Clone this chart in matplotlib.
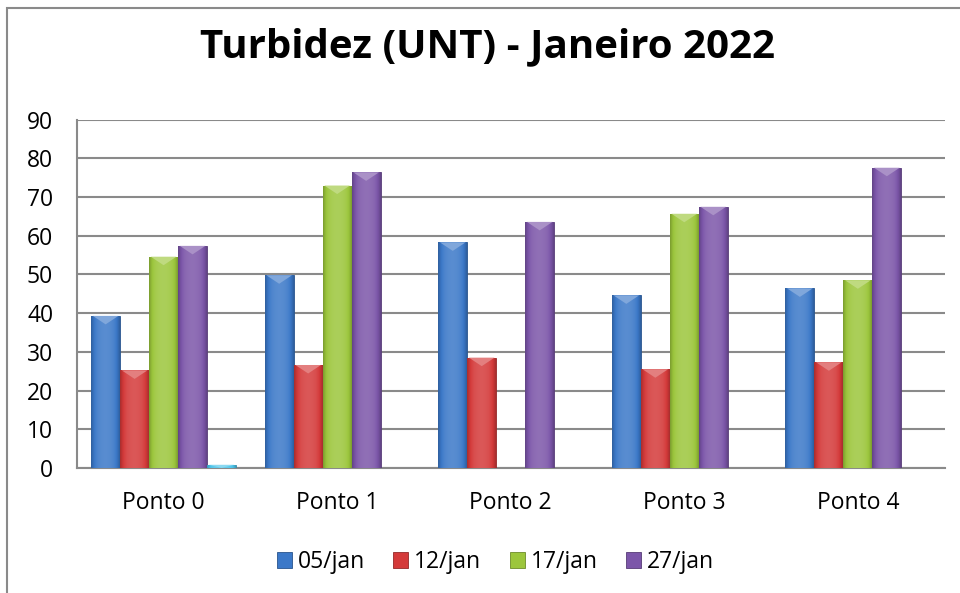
import matplotlib.pyplot as plt
import matplotlib.colors as mcolors
from matplotlib.patches import Rectangle, Polygon
import numpy as np

# Data
categories = ['Ponto 0', 'Ponto 1', 'Ponto 2', 'Ponto 3', 'Ponto 4']
series_names = ['05/jan', '12/jan', '17/jan', '27/jan', '']
jan05 = [39.3, 49.8, 58.3, 44.6, 46.4]
jan12 = [25.2, 26.6, 28.5, 25.5, 27.3]
jan17 = [54.6, 73.0, 0.0, 65.7, 48.5]
jan27 = [57.4, 76.4, 63.6, 67.5, 77.6]
extra = [0.8, 0.0, 0.0, 0.0, 0.0]
values = [jan05, jan12, jan17, jan27, extra]
colors = ['#3b78c8', '#d43a3a', '#9cc63c', '#7c56a9', '#4cc4ea']

plt.rcParams['font.family'] = ['Open Sans', 'DejaVu Sans']

fig = plt.figure(figsize=(9.6, 5.93), dpi=100)
ax = fig.add_axes([0.080, 0.211, 0.904, 0.587])

n = len(values)
width = 0.167
x = np.arange(len(categories))


def shade(c, f):
    r = np.array(mcolors.to_rgb(c))
    if f > 0:
        return r + (1 - r) * f
    return r * (1 + f)


for i, (vals, col) in enumerate(zip(values, colors)):
    xs = x + (i - (n - 1) / 2) * width
    bars = ax.bar(xs, vals, width=width, color=col, edgecolor=shade(col, -0.3),
                  linewidth=0.6, zorder=3, label=series_names[i])
    # bevel look: horizontal gradient clipped to each bar, light wedge on top
    t = np.linspace(0, 1, 64)
    s = np.sin(np.pi * t)
    prof = 0.15 * s - 0.22 * (1 - s) ** 3
    grad = np.array([shade(col, p) for p in prof])[None, :, :]
    for b in bars:
        h = b.get_height()
        if h <= 0:
            continue
        x0 = b.get_x()
        im = ax.imshow(grad, extent=[x0, x0 + width, 0, h],
                       aspect='auto', zorder=3.5, interpolation='bicubic')
        im.set_clip_path(b)
        d = min(2.2, h)
        wedge = Polygon([[x0 + 0.01, h], [x0 + width - 0.01, h],
                         [x0 + width * 0.5, h - d]], closed=True,
                        facecolor=shade(col, 0.35), edgecolor='none', zorder=3.6)
        ax.add_patch(wedge)

ax.set_xlim(-0.5, len(categories) - 0.5)
ax.set_ylim(0, 90)
ax.set_yticks(range(0, 91, 10))
ax.set_xticks(x)
ax.set_xticklabels(categories, fontsize=16.5)
ax.tick_params(axis='y', labelsize=16.5, length=0, pad=17)
ax.tick_params(axis='x', length=0, pad=17)
ax.yaxis.grid(True, color='#8a8a8a', linewidth=1.5, zorder=0)
ax.set_axisbelow(True)
for s in ['top', 'right']:
    ax.spines[s].set_visible(False)
for s in ['left', 'bottom']:
    ax.spines[s].set_color('#8a8a8a')
    ax.spines[s].set_linewidth(1.5)

fig.text(0.508, 0.921, 'Turbidez (UNT) - Janeiro 2022', ha='center', va='center',
         fontsize=29, fontweight='bold')

handles, labels = ax.get_legend_handles_labels()
leg = fig.legend(handles[:4], labels[:4], loc='center', bbox_to_anchor=(0.516, 0.052),
                 ncol=4, frameon=False, fontsize=16.5, handlelength=0.65,
                 handleheight=0.65, handletextpad=0.25, columnspacing=1.25)

# chart border (only left and top edges fall inside the image)
fig.patches.append(Rectangle((0.0075, -0.2), 1.2, 1.1865, transform=fig.transFigure,
                             fill=False, edgecolor='#8a8a8a', linewidth=1.5))

fig.savefig('out.png', dpi=100)
